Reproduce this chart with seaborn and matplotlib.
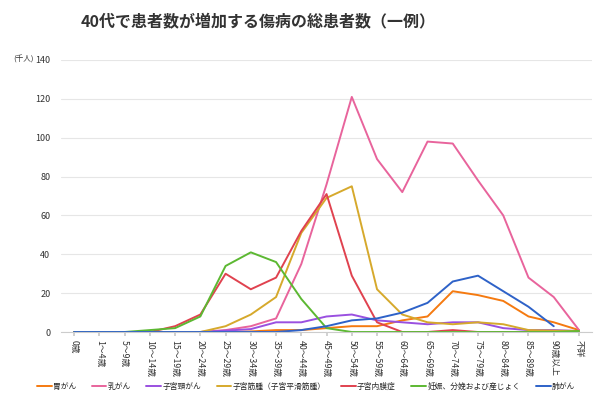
import numpy as np
import pandas as pd
import matplotlib
matplotlib.use("Agg")
import matplotlib.pyplot as plt
import seaborn as sns

categories = ["0歳", "1～4歳", "5～9歳", "10～14歳", "15～19歳", "20～24歳", "25～29歳",
              "30～34歳", "35～39歳", "40～44歳", "45～49歳", "50～54歳", "55～59歳",
              "60～64歳", "65～69歳", "70～74歳", "75～79歳", "80～84歳", "85～89歳",
              "90歳以上", "不詳"]

stomach = [0, 0, 0, 0, 0, 0, 0, 0.3, 1, 1, 2, 3, 3, 6, 8, 21, 19, 16, 8, 5, 1]
breast = [0, 0, 0, 0, 0, 0, 1, 3, 7, 35, 76, 121, 89, 72, 98, 97, 78, 60, 28, 18, 1]
cervical = [0, 0, 0, 0, 0, 0, 0.7, 1.5, 5, 5, 8, 9, 6, 5, 4, 5, 5, 2, 1, 1, 0.5]
fibroid = [0, 0, 0, 0, 0, 0, 3, 9, 18, 51, 69, 75, 22, 9, 5, 4, 5, 4, 1, 0.7, 0.5]
endometriosis = [0, 0, 0, 0, 3, 9, 30, 22, 28, 52, 71, 29, 5, 0, 0, 1, 0, 0, 0, 0, 0]
pregnancy = [0, 0, 0, 1, 2, 8, 34, 41, 36, 17, 2, 0, 0, 0, 0, 0, 0, 0, 0, 0, 0.5]
lung = [0, 0, 0, 0, 0, 0, 0, 0, 0, 1, 3, 6, 7, 10, 15, 26, 29, 21, 13, 3, np.nan]

series_names = ["胃がん", "乳がん", "子宮頸がん", "子宮筋腫（子宮平滑筋腫）",
                "子宮内膜症", "妊娠、分娩および産じょく", "肺がん"]
series_values = [stomach, breast, cervical, fibroid, endometriosis, pregnancy, lung]
colors = ["#f57a10", "#e8649c", "#9a50e0", "#d6a92c", "#e0424f", "#5cb832", "#2e62c8"]

title = "40代で患者数が増加する傷病の総患者数（一例）"
unit_label = "(千人)"

rows = []
for name, vals in zip(series_names, series_values):
    for i, v in enumerate(vals):
        rows.append({"x": i, "value": v, "series": name})
df = pd.DataFrame(rows)

sns.set_theme(style="white")
plt.rcParams["font.family"] = ["Noto Sans CJK JP", "DejaVu Sans"]

fig = plt.figure(figsize=(6, 4.05), dpi=100)
ax = fig.add_axes([0.1025, 0.1802, 0.8835, 0.6717])

sns.lineplot(data=df, x="x", y="value", hue="series", hue_order=series_names,
             palette=colors, linewidth=1.4, ax=ax, legend=True)

ax.set_xlim(-0.5, 20.5)
ax.set_ylim(0, 140)
ax.set_yticks(np.arange(0, 141, 20))
ax.set_yticklabels([str(v) for v in range(0, 141, 20)], fontsize=6.5, color="#333333")
ax.set_xticks(range(len(categories)))
ax.set_xticklabels(categories, rotation=-90, fontsize=6.3, color="#333333", va="top", ha="center")
ax.set_xlabel("")
ax.set_ylabel("")
ax.yaxis.grid(True, color="#e6e6e6", linewidth=0.8)
ax.set_axisbelow(True)
for s in ["top", "right", "left"]:
    ax.spines[s].set_visible(False)
ax.spines["bottom"].set_color("#cccccc")
ax.spines["bottom"].set_linewidth(0.8)
ax.tick_params(axis="y", length=0, pad=8)
ax.tick_params(axis="x", length=3, color="#cccccc", pad=3, bottom=True)

ax.text(-0.053, 1.0, unit_label, transform=ax.transAxes, fontsize=5.5,
        color="#333333", ha="right", va="center")

fig.text(0.43, 0.945, title, ha="center", va="center", fontsize=11.5,
         fontweight="bold", color="#333333")

handles, labels = ax.get_legend_handles_labels()
ax.legend_.remove()
fig.legend(handles, labels, loc="center", bbox_to_anchor=(0.51, 0.045), ncol=7,
           frameon=False, fontsize=5.6, handlelength=1.9, handletextpad=0.15,
           columnspacing=2.0)

fig.savefig("out.png", dpi=100)
